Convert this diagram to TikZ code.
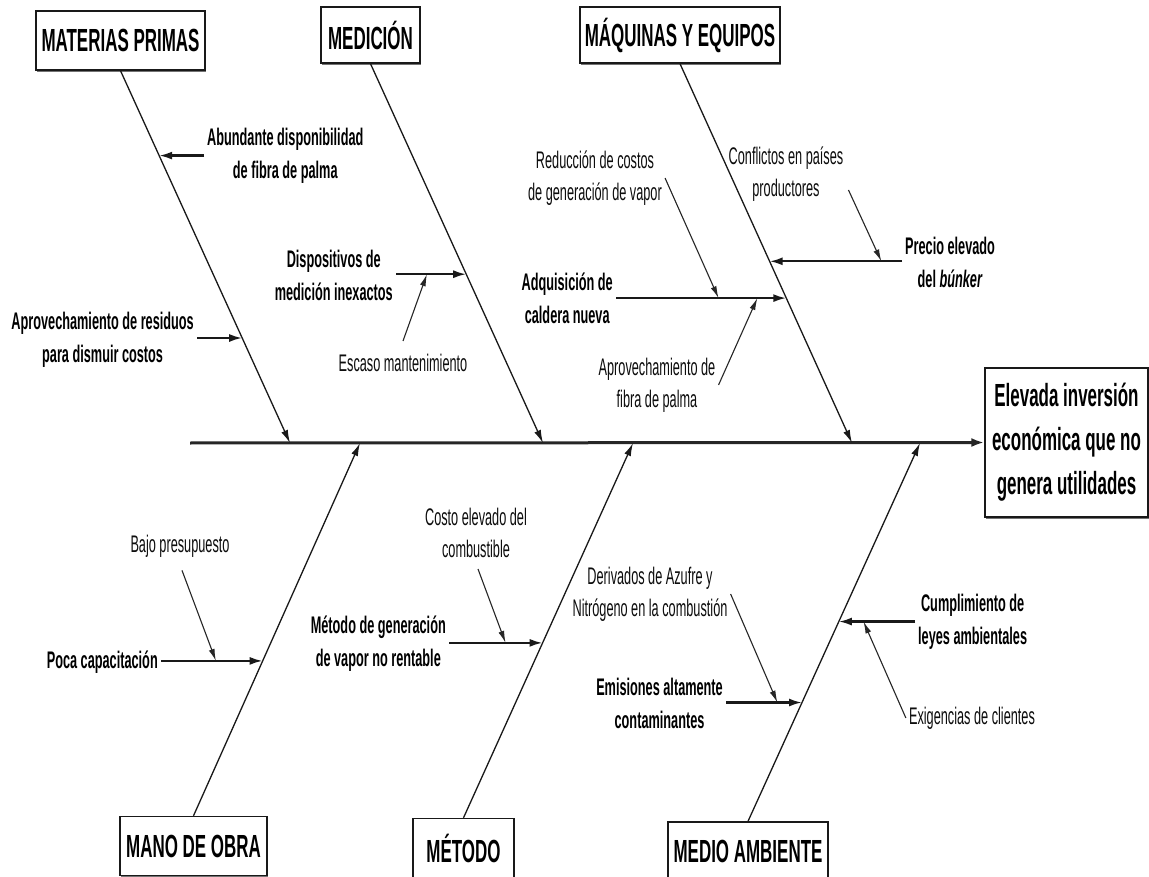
\documentclass[tikz,border=0pt]{standalone}
\usepackage{fontspec}
\newfontfamily\nfont{Liberation Sans}[FakeStretch=0.53]
\usetikzlibrary{arrows.meta,calc,shadows}
\begin{document}
\begin{tikzpicture}[x=1pt,y=-1pt,
  catbox/.style={draw=black!90, line width=1.4pt, fill=white, align=center, inner sep=0pt,
    font=\nfont\bfseries\fontsize{32}{38}\selectfont,
    drop shadow={shadow xshift=1.2pt, shadow yshift=-1.8pt, fill=black!55, opacity=1}},
  cause/.style={font=\nfont\bfseries\fontsize{24}{33}\selectfont, align=center, inner sep=3pt},
  subcause/.style={font=\nfont\fontsize{24}{32}\selectfont, align=center, inner sep=3pt, text=black!95},
  spine/.style={line width=3pt, draw=black!85, -{Latex[length=13pt,width=9pt]}},
  bone/.style={line width=1.3pt, draw=black!90, -{Latex[length=13pt,width=7pt]}},
  branch/.style={line width=2.2pt, draw=black!90, -{Latex[length=13pt,width=8pt]}},
  twig/.style={line width=1.1pt, draw=black!85, -{Latex[length=12pt,width=6pt]}},
]
\fill[white] (0,0) rectangle (1149,877);
\useasboundingbox (0,0) rectangle (1149,877);

% category boxes and effect
\node[catbox, minimum width=169, minimum height=59] (mp)  at (120.5,40.5) {MATERIAS PRIMAS};
\node[catbox, minimum width=99,  minimum height=56] (med) at (370.5,35)   {MEDICIÓN};
\node[catbox, minimum width=200, minimum height=56] (maq) at (680,35)     {MÁQUINAS Y EQUIPOS};
\node[catbox, minimum width=147, minimum height=59] (mo)  at (193.5,846)  {MANO DE OBRA};
\node[catbox, minimum width=101, minimum height=59] (met) at (463.5,848)  {MÉTODO};
\node[catbox, minimum width=160, minimum height=58] (ma)  at (748,851)    {MEDIO AMBIENTE};
\node[catbox, minimum width=163, minimum height=149, font=\nfont\bfseries\fontsize{32}{44}\selectfont]
  (eff) at (1066.5,442.5) {Elevada inversión\\económica que no\\genera utilidades};

% spine
\coordinate (tail) at (190,443);
\coordinate (s1) at (290,443);
\coordinate (s2) at (543,443);
\coordinate (s3) at (852,443);
\coordinate (s4) at (360,443);
\coordinate (s5) at (633,443);
\coordinate (s6) at (920,443);
\draw[spine] (tail) -- (eff.west);

% main bones
\draw[bone] (mp.south) -- (s1);
\draw[bone] (med.south) -- (s2);
\draw[bone] (maq.south) -- (s3);
\draw[bone] (mo.north) -- (s4);
\draw[bone] (met.north) -- (s5);
\draw[bone] (ma.north) -- (s6);

% points where the causes meet the bones
\coordinate (pA) at ($(mp.south)!0.228!(s1)$);
\coordinate (pR) at ($(mp.south)!0.718!(s1)$);
\coordinate (pD) at ($(med.south)!0.555!(s2)$);
\coordinate (pP) at ($(maq.south)!0.521!(s3)$);
\coordinate (pQ) at ($(maq.south)!0.618!(s3)$);
\coordinate (pC) at ($(mo.north)!0.4155!(s4)$);
\coordinate (pM) at ($(met.north)!0.4667!(s5)$);
\coordinate (pE) at ($(ma.north)!0.314!(s6)$);
\coordinate (pL) at ($(ma.north)!0.528!(s6)$);

% Materias primas
\node[cause, anchor=west] (abu) at (204,156) {Abundante disponibilidad\\de fibra de palma};
\coordinate (bA) at (abu.west |- pA);
\draw[branch] (bA) -- (pA);
\node[cause, anchor=east] (res) at (197,340) {Aprovechamiento de residuos\\para dismuir costos};
\coordinate (bR) at (res.east |- pR);
\draw[branch] (bR) -- (pR);

% Medición
\node[cause, anchor=east] (dis) at (396,275) {Dispositivos de\\medición inexactos};
\coordinate (bD) at (dis.east |- pD);
\draw[branch] (bD) -- (pD);
\coordinate (qD) at ($(bD)!0.44!(pD)$);
\node[subcause] (esc) at (403,363) {Escaso mantenimiento};
\coordinate (tE) at ($(esc.north)+(0,-10)$);
\draw[twig] (tE) -- (qD);

% Máquinas y equipos
\node[cause, anchor=east] (adq) at (616,298) {Adquisición de\\caldera nueva};
\coordinate (bQ) at (adq.east |- pQ);
\draw[branch] (bQ) -- (pQ);
\coordinate (qR) at ($(bQ)!0.602!(pQ)$);
\coordinate (qF) at ($(bQ)!0.83!(pQ)$);
\node[subcause] (red) at (595,178) {Reducción de costos\\de generación de vapor};
\draw[twig] (red.east) -- (qR);
\node[subcause] (fib) at (657,385) {Aprovechamiento de\\fibra de palma};
\draw[twig] (fib.east) -- (qF);

\node[cause, anchor=west] (pre) at (902,262) {Precio elevado\\del \textit{búnker}};
\coordinate (bP) at (pre.west |- pP);
\draw[branch] (bP) -- (pP);
\coordinate (qC) at ($(bP)!0.156!(pP)$);
\node[subcause] (con) at (786,174) {Conflictos en países\\productores};
\coordinate (tC) at ($(con.east)+(2,16)$);
\draw[twig] (tC) -- (qC);

% Mano de obra
\node[cause, anchor=east] (poc) at (161,662) {Poca capacitación};
\coordinate (bC) at (poc.east |- pC);
\draw[branch] (bC) -- (pC);
\coordinate (qB) at ($(bC)!0.54!(pC)$);
\node[subcause] (baj) at (180,546) {Bajo presupuesto};
\coordinate (tB) at ($(baj.south)+(2,10)$);
\draw[twig] (tB) -- (qB);

% Método
\node[cause, anchor=east] (mgv) at (449,644) {Método de generación\\de vapor no rentable};
\coordinate (bM) at (mgv.east |- pM);
\draw[branch] (bM) -- (pM);
\coordinate (qK) at ($(bM)!0.604!(pM)$);
\node[subcause] (cos) at (476,533) {Costo elevado del\\combustible};
\coordinate (tK) at ($(cos.south)+(2,8)$);
\draw[twig] (tK) -- (qK);

% Medio ambiente
\node[cause, anchor=east] (emi) at (726,703) {Emisiones altamente\\contaminantes};
\coordinate (bE) at (emi.east |- pE);
\draw[branch] (bE) -- (pE);
\coordinate (qN) at ($(bE)!0.676!(pE)$);
\node[subcause] (der) at (650,594) {Derivados de Azufre y\\Nitrógeno en la combustión};
\draw[twig] (der.east) -- (qN);

\node[cause, anchor=west] (cum) at (915,622) {Cumplimiento de\\leyes ambientales};
\coordinate (bL) at (cum.west |- pL);
\draw[branch] (bL) -- (pL);
\coordinate (qX) at ($(bL)!0.676!(pL)$);
\node[subcause] (exi) at (972,718) {Exigencias de clientes};
\draw[twig] (exi.west) -- (qX);
\end{tikzpicture}
\end{document}
